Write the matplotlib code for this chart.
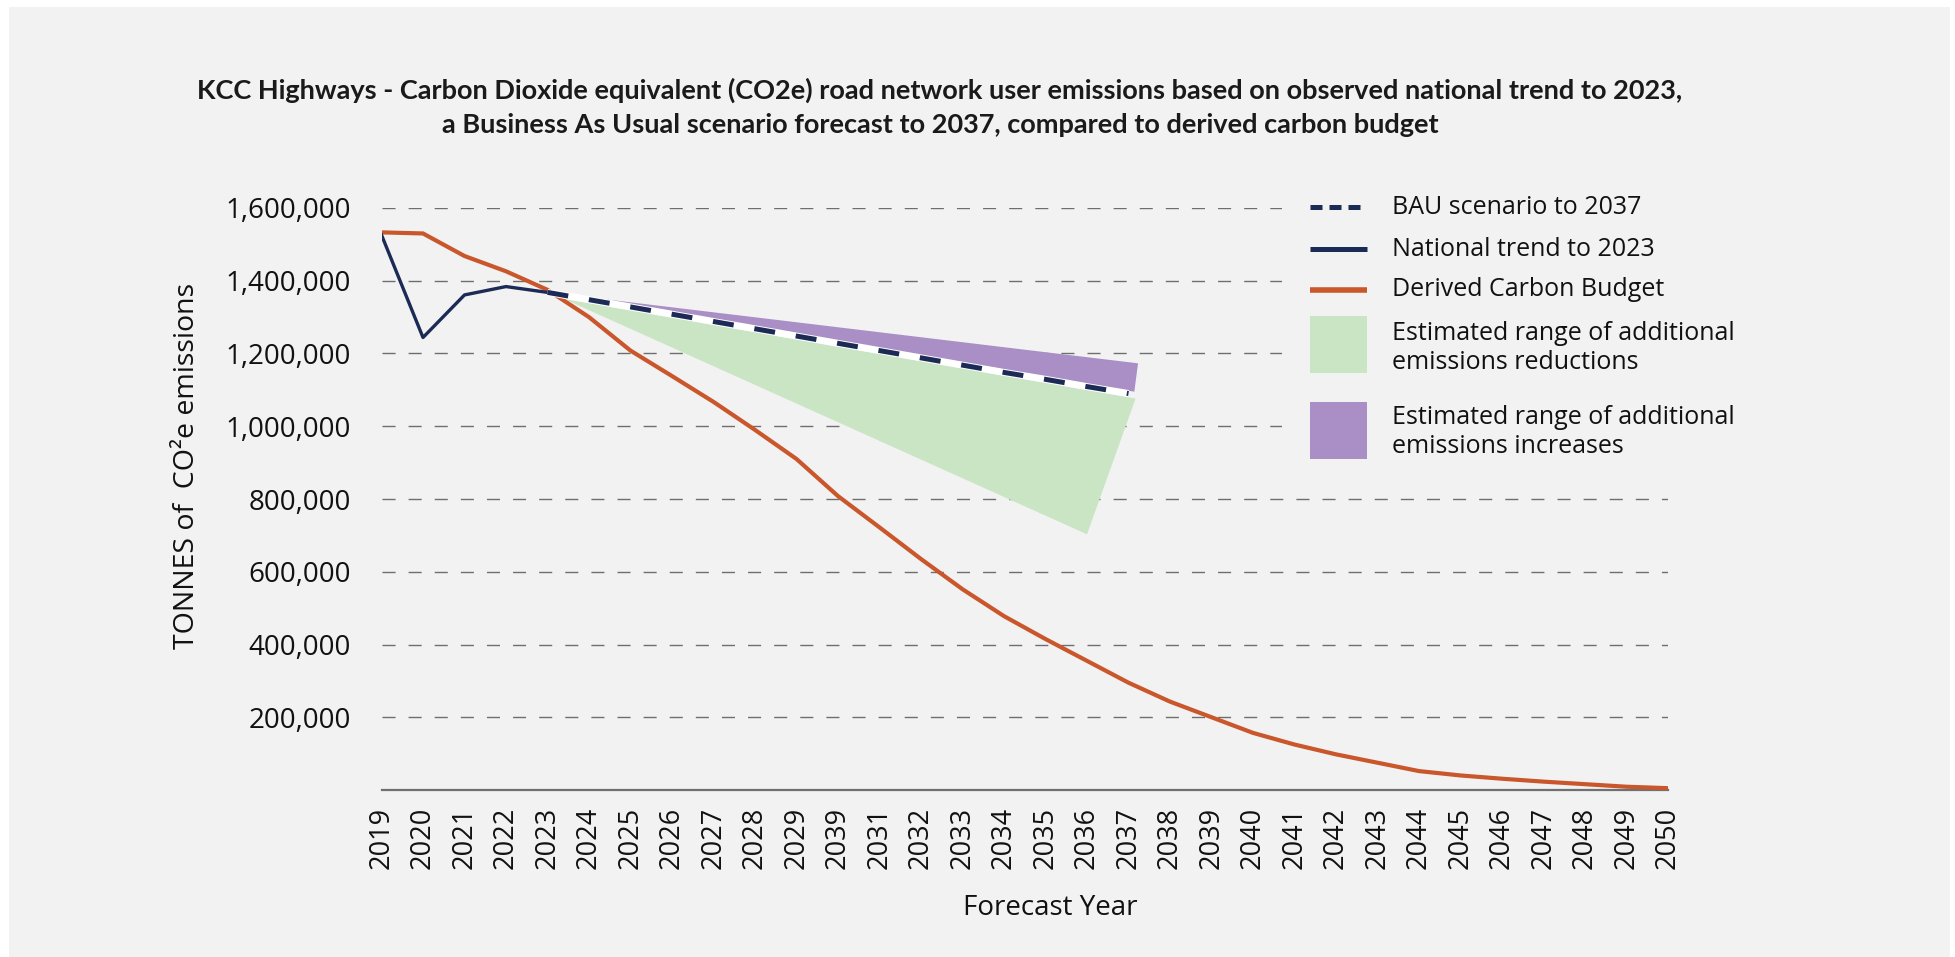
import matplotlib
matplotlib.use('Agg')
import matplotlib.pyplot as plt
from matplotlib.lines import Line2D
from matplotlib.patches import Rectangle
from matplotlib.ticker import FuncFormatter

# ---------------- data ----------------
years = list(range(2019, 2051))
year_labels = ['2019', '2020', '2021', '2022', '2023', '2024', '2025', '2026', '2027',
               '2028', '2029', '2039', '2031', '2032', '2033', '2034', '2035', '2036',
               '2037', '2038', '2039', '2040', '2041', '2042', '2043', '2044', '2045',
               '2046', '2047', '2048', '2049', '2050']
carbon_budget = [1533000, 1530000, 1468000, 1426000, 1375000, 1300000, 1208000, 1138000,
                 1067000, 990000, 910000, 808000, 722000, 635000, 552000, 478000, 415000,
                 355000, 295000, 243000, 200000, 157000, 125000, 98000, 75000, 52000,
                 40000, 31000, 23000, 16000, 9000, 5000]
national_years = [2019, 2020, 2021, 2022, 2023]
national_trend = [1526000, 1244000, 1361000, 1384000, 1368000]
bau_years = list(range(2023, 2038))
bau_values = [1368000, 1348000, 1328000, 1308000, 1288000, 1268000, 1248000, 1228000,
              1208000, 1188000, 1168000, 1148000, 1129000, 1109000, 1090000]
reduction_x = [2023.4, 2037.17, 2036.0]
reduction_y = [1350000, 1076000, 703000]
increase_x = [2023.3, 2037.23, 2037.14]
increase_y = [1364000, 1173000, 1095000]
y_ticks = [200000, 400000, 600000, 800000, 1000000, 1200000, 1400000, 1600000]

title_line1 = ('KCC Highways - Carbon Dioxide equivalent (CO2e) road network user '
               'emissions based on observed national trend to 2023,')
title_line2 = 'a Business As Usual scenario forecast to 2037, compared to derived carbon budget'
legend_labels = ['BAU scenario to 2037', 'National trend to 2023', 'Derived Carbon Budget',
                 'Estimated range of additional\nemissions reductions',
                 'Estimated range of additional\nemissions increases']

# ---------------- style ----------------
BG = '#f2f2f2'
NAVY = '#1c2a56'
ORANGE = '#c9572b'
GREEN = '#c9e5c4'
PURPLE = '#a98fc6'
GRID = '#6e6e6e'
BODY = ['Open Sans', 'DejaVu Sans']
TITLE_FONT = ['Lato', 'DejaVu Sans']

W, H = 1955, 957
def fx(x):
    return x / W
def fy(y):
    return 1 - y / H

fig = plt.figure(figsize=(W / 100, H / 100), dpi=100, facecolor='white')
fig.add_artist(Rectangle((fx(9), 0), (W - 9 - 5) / W, (H - 7) / H,
                         transform=fig.transFigure, facecolor=BG, edgecolor='none', zorder=-10))

ax = fig.add_axes([fx(381.5), fy(790), (1668 - 381.5) / W, (790 - 208) / H])
ax.set_facecolor('none')

ax.set_xlim(2019, 2050)
ax.set_ylim(0, 1600000)

# grid
for v in y_ticks:
    ax.axhline(v, color=GRID, lw=1.0, dashes=(9.4, 9.4), zorder=0.5)

# ranges
ax.fill(increase_x, increase_y, color=PURPLE, lw=0, zorder=1)
ax.fill(reduction_x, reduction_y, color=GREEN, lw=0, zorder=1)

# lines
ax.plot(years, carbon_budget, color=ORANGE, lw=3.0, zorder=3, solid_joinstyle='miter')
ax.plot(national_years, national_trend, color=NAVY, lw=2.4, zorder=4)
ax.plot(bau_years, bau_values, color='white', lw=5.0, zorder=4.5, solid_capstyle='butt')
ax.plot(bau_years, bau_values, color=NAVY, lw=3.6, dashes=(4.2, 4.2),
        dash_capstyle='butt', zorder=5)

# axes
for s in ['top', 'right', 'left']:
    ax.spines[s].set_visible(False)
ax.spines['bottom'].set_color('#707070')
ax.spines['bottom'].set_linewidth(1.6)
ax.spines['bottom'].set_zorder(2)

ax.set_yticks(y_ticks)
ax.yaxis.set_major_formatter(FuncFormatter(lambda v, p: f'{int(v):,}'))
ax.set_xticks(years)
ax.set_xticklabels(year_labels, rotation=90)
ax.tick_params(axis='y', length=0, pad=22, labelsize=20, labelcolor='#111111')
ax.tick_params(axis='x', length=0, pad=12, labelsize=19.5, labelcolor='#111111')
for lab in ax.get_xticklabels() + ax.get_yticklabels():
    lab.set_family(BODY)

# axis titles
fig.text(fx(187), fy(466), 'TONNES of  CO\u00b2e emissions', rotation=90,
         ha='center', va='center', fontsize=20.5, family=BODY, color='#111111')
fig.text(fx(1050), fy(908), 'Forecast Year', ha='center', va='center',
         fontsize=20, family=BODY, color='#111111')

# title
fig.text(fx(940), fy(90), title_line1, ha='center', va='center', fontsize=19.5,
         fontweight='bold', family=TITLE_FONT, color='#1a1a1a')
fig.text(fx(940), fy(125), title_line2, ha='center', va='center', fontsize=19.5,
         fontweight='bold', family=TITLE_FONT, color='#1a1a1a')

# legend (manual)
fig.add_artist(Rectangle((fx(1282), fy(475)), (1700 - 1282) / W, (475 - 185) / H,
                         transform=fig.transFigure, facecolor=BG, edgecolor='none', zorder=5))
hx0, hx1, tx = 1310, 1367, 1392
fig.add_artist(Line2D([fx(hx0), fx(hx1)], [fy(207)] * 2, transform=fig.transFigure,
                      color=NAVY, lw=3.6, dashes=(2.4, 1.4), dash_capstyle='butt', zorder=6))
fig.add_artist(Line2D([fx(hx0), fx(hx1)], [fy(249)] * 2, transform=fig.transFigure,
                      color=NAVY, lw=3.6, solid_capstyle='butt', zorder=6))
fig.add_artist(Line2D([fx(hx0), fx(hx1)], [fy(290)] * 2, transform=fig.transFigure,
                      color=ORANGE, lw=4.0, solid_capstyle='butt', zorder=6))
fig.add_artist(Rectangle((fx(hx0), fy(373)), (hx1 - hx0) / W, 57 / H,
                         transform=fig.transFigure, facecolor=GREEN, edgecolor='none', zorder=6))
fig.add_artist(Rectangle((fx(hx0), fy(459)), (hx1 - hx0) / W, 57 / H,
                         transform=fig.transFigure, facecolor=PURPLE, edgecolor='none', zorder=6))
text_rows = [207, 249, 290, 348, 432]
for lab, yy in zip(legend_labels, text_rows):
    fig.text(fx(tx), fy(yy), lab, ha='left', va='center', fontsize=18, family=BODY,
             color='#111111', linespacing=1.2, zorder=7)

fig.savefig('out.png', dpi=100, facecolor='white')
